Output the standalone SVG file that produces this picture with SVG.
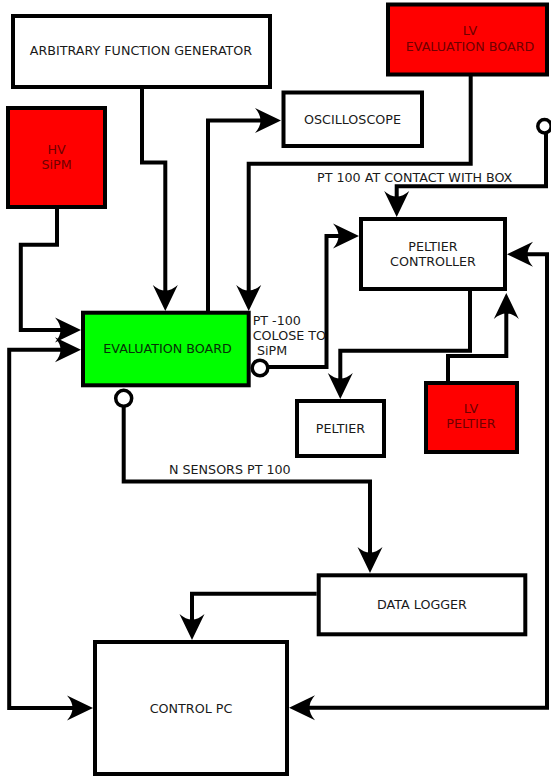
<svg xmlns="http://www.w3.org/2000/svg" width="551" height="776" viewBox="0 0 551 776">
<style>
.box{stroke:#000;stroke-width:4;fill:#fff}
.red{fill:#ff0000}
.green{fill:#00ff00}
text{font-family:"DejaVu Sans","Liberation Sans",sans-serif;font-size:12.7px;fill:#1a1a1a}
.c{text-anchor:middle}
.rt{fill:#700000}
.gt{fill:#063006}
.wire{fill:none;stroke:#000;stroke-width:4;stroke-linejoin:miter}
.arr{marker-end:url(#ah)}
.bi{marker-start:url(#ah);marker-end:url(#ah)}
.port{fill:#fff;stroke:#000;stroke-width:3.5}
</style>
<defs>
<marker id="ah" viewBox="-30 -15 40 30" refX="-9" refY="0" markerWidth="40" markerHeight="30" markerUnits="userSpaceOnUse" orient="auto-start-reverse">
<path d="M0,0 L-26,-12.5 Q-15,0 -26,12.5 Z" fill="#000"/>
</marker>
</defs>
<rect width="551" height="776" fill="#fff"/>

<g id="connectors">
<path class="wire arr" d="M142,87 V162.5 H165.3 V302"/>
<path class="wire arr" d="M208,311 V120.5 H272"/>
<path class="wire arr" d="M470.7,76 V163.7 H248.7 V302"/>
<path class="wire arr" d="M546,133 V186.3 H396.7 V208"/>
<path class="wire arr" d="M268,367 H326.5 V236 H350"/>
<path class="wire arr" d="M470,291 V350.7 H340.3 V390"/>
<path class="wire arr" d="M448,381 V356 H506.3 V302"/>
<path class="wire bi" d="M516,254.2 H547 V707.7 H298"/>
<path class="wire arr" d="M57,209 V244.7 H20.8 V330 H72"/>
<path class="wire bi" d="M72,349.7 H9.2 V708 H84"/>
<path class="wire arr" d="M123.7,406.5 V481.5 H370 V564"/>
<path class="wire arr" d="M316.7,593.7 H192 V631"/>
<circle class="port" cx="123.7" cy="398.3" r="8"/>
<circle class="port" cx="260" cy="368" r="7.8"/>
<circle class="port" cx="544.5" cy="126.2" r="6.7"/>
<text x="317" y="182">PT 100 AT CONTACT WITH BOX</text>
<text x="252.7" y="325">PT -100</text>
<text x="252.7" y="340">COLOSE TO</text>
<text x="257" y="355">SiPM</text>
<text x="169" y="474">N SENSORS PT 100</text>
</g>

<g id="afg">
<rect class="box" x="13" y="16" width="257" height="71"/>
<text class="c" x="141" y="55">ARBITRARY FUNCTION GENERATOR</text>
</g>
<g id="hv-sipm">
<rect class="box red" x="8" y="108" width="97" height="99"/>
<text class="c rt" x="56.5" y="153.5">HV</text>
<text class="c rt" x="56.5" y="168.5">SiPM</text>
</g>
<g id="oscilloscope">
<rect class="box" x="283.5" y="92.5" width="138.5" height="53.5"/>
<text class="c" x="352.5" y="124">OSCILLOSCOPE</text>
</g>
<g id="lv-eval">
<rect class="box red" x="388" y="4.5" width="159" height="70"/>
<text class="c rt" x="470" y="35">LV</text>
<text class="c rt" x="470" y="50.5">EVALUATION BOARD</text>
</g>
<g id="eval-board">
<rect class="box green" x="83" y="312.7" width="165.7" height="72.6"/>
<text class="c gt" x="167.5" y="353">EVALUATION BOARD</text>
</g>
<g id="peltier-controller">
<rect class="box" x="361" y="219" width="144" height="70"/>
<text class="c" x="433" y="251">PELTIER</text>
<text class="c" x="433" y="266">CONTROLLER</text>
</g>
<g id="peltier">
<rect class="box" x="297" y="401" width="87" height="55"/>
<text class="c" x="340.5" y="433">PELTIER</text>
</g>
<g id="lv-peltier">
<rect class="box red" x="426" y="383" width="91" height="69"/>
<text class="c rt" x="471" y="413">LV</text>
<text class="c rt" x="471" y="428">PELTIER</text>
</g>
<g id="data-logger">
<rect class="box" x="318.7" y="575.3" width="206.6" height="59"/>
<text class="c" x="422" y="609">DATA LOGGER</text>
</g>
<g id="control-pc">
<rect class="box" x="95" y="642" width="192" height="132"/>
<text class="c" x="191" y="713">CONTROL PC</text>
</g>
</svg>
